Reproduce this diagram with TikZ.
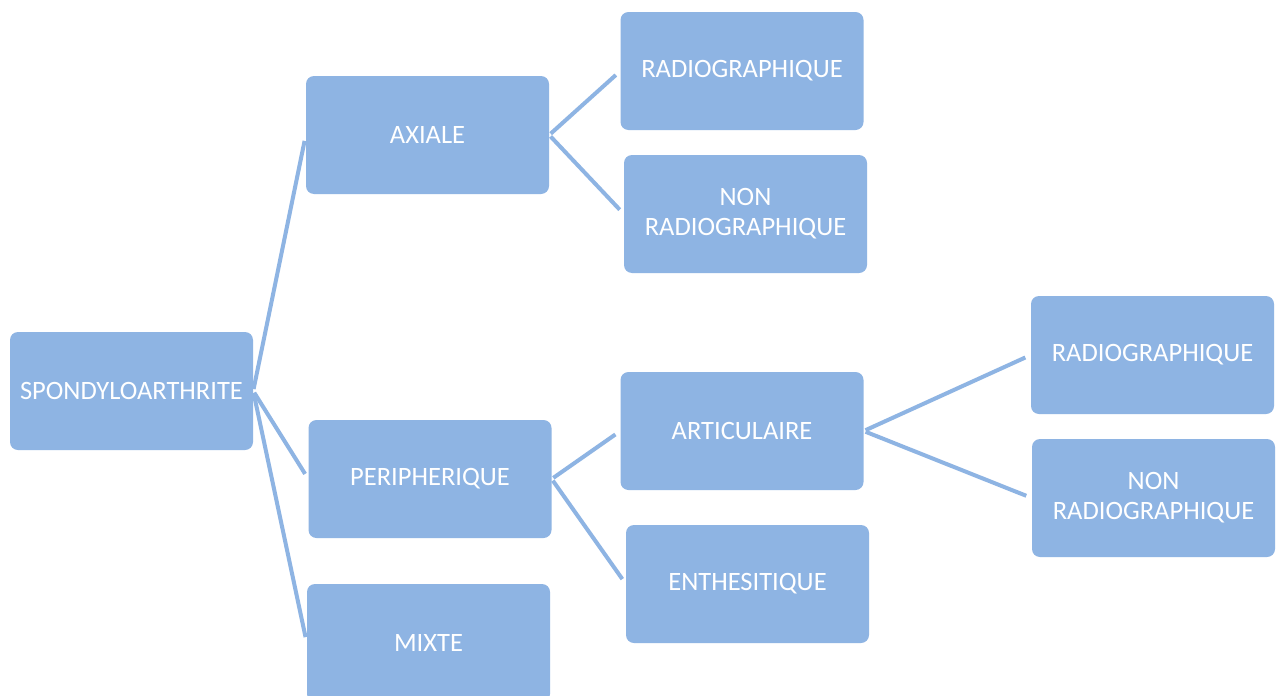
\documentclass[tikz,border=0pt]{standalone}
\usepackage{fontspec}
\setmainfont{Carlito}
\definecolor{boxblue}{RGB}{142,180,227}
\tikzset{
  smbox/.style={fill=boxblue, draw=none, rounded corners=8pt, minimum width=243pt, minimum height=118pt, inner sep=0pt, text=white, align=center, font=\fontsize{26.5}{30}\selectfont},
  conn/.style={draw=boxblue, line width=4pt, shorten <=2pt, shorten >=6pt}
}
\begin{document}
\begin{tikzpicture}[x=1pt,y=-1pt]
\clip (0,0) rectangle (1277,696);
\fill[white] (0,0) rectangle (1277,696);
\node[smbox] (sp) at (131.5,391) {SPONDYLOARTHRITE};
\node[smbox] (ax) at (427.5,135) {AXIALE};
\node[smbox] (pe) at (430,479) {PERIPHERIQUE};
\node[smbox] (mi) at (428.5,643) {MIXTE};
\node[smbox] (r1) at (742,71) {RADIOGRAPHIQUE};
\node[smbox] (n1) at (745.5,214) {NON\\RADIOGRAPHIQUE};
\node[smbox] (ar) at (742,431) {ARTICULAIRE};
\node[smbox] (en) at (747.5,584) {ENTHESITIQUE};
\node[smbox] (r2) at (1152.5,355) {RADIOGRAPHIQUE};
\node[smbox] (n2) at (1153.5,498) {NON\\RADIOGRAPHIQUE};
\draw[conn] (sp.east) -- (ax.west);
\draw[conn] (sp.east) -- (pe.west);
\draw[conn] (sp.east) -- (mi.west);
\draw[conn] (ax.east) -- (r1.west);
\draw[conn] (ax.east) -- (n1.west);
\draw[conn] (pe.east) -- (ar.west);
\draw[conn] (pe.east) -- (en.west);
\draw[conn] (ar.east) -- (r2.west);
\draw[conn] (ar.east) -- (n2.west);
\end{tikzpicture}
\end{document}
